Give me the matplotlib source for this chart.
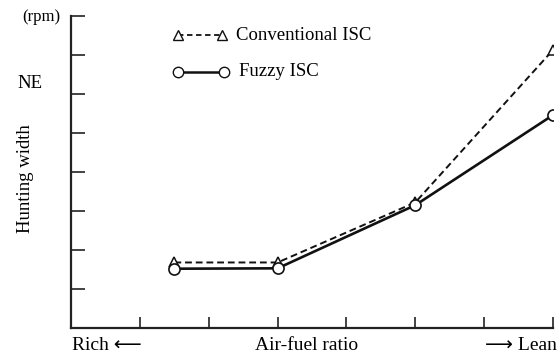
import matplotlib
matplotlib.use("Agg")
import matplotlib.pyplot as plt

plt.rcParams['font.family'] = ['Liberation Serif', 'DejaVu Sans']

x_pos = [1.5, 3.0, 5.0, 7.0]
conventional = [1.68, 1.68, 3.22, 7.13]
fuzzy = [1.52, 1.53, 3.15, 5.46]
series_names = ["Conventional ISC", "Fuzzy ISC"]

fig = plt.figure(figsize=(5.6, 3.56), dpi=100)
ax = fig.add_axes([0.127, 0.0787, 0.8605, 0.8763])

ax.plot(x_pos, conventional, linestyle=(0, (3.5, 2)), color='#111111', lw=1.4,
        marker='^', markersize=7.5, markerfacecolor='white', markeredgecolor='#111111',
        markeredgewidth=1.1, zorder=3)
ax.plot(x_pos, fuzzy, linestyle='-', color='#111111', lw=1.9,
        marker='o', markersize=8, markerfacecolor='white', markeredgecolor='#111111',
        markeredgewidth=1.2, zorder=4)

ax.set_xlim(0, 7)
ax.set_ylim(0, 8)
ax.set_xticks(range(0, 8))
ax.set_yticks(range(0, 9))
ax.set_xticklabels([])
ax.set_yticklabels([])
ax.tick_params(axis='both', direction='in', color='#222222', width=1.2)
ax.tick_params(axis='y', length=10)
ax.tick_params(axis='x', length=8)
for s in ['top', 'right']:
    ax.spines[s].set_visible(False)
for s in ['left', 'bottom']:
    ax.spines[s].set_linewidth(1.6)
    ax.spines[s].set_color('#222222')
    ax.spines[s].set_clip_on(False)

def fx(px):
    return px / 560
def fy(py):
    return 1 - py / 356

fig.lines.append(plt.Line2D([fx(178), fx(222)], [fy(35), fy(35)], transform=fig.transFigure,
                            linestyle=(0, (3, 2)), color='#111111', lw=1.3,
                            marker='^', markersize=6.5, markerfacecolor='white',
                            markeredgecolor='#111111', markevery=[0, 1]))
fig.lines.append(plt.Line2D([fx(178), fx(224)], [fy(72), fy(72)], transform=fig.transFigure,
                            linestyle='-', color='#111111', lw=1.8,
                            marker='o', markersize=7.5, markerfacecolor='white',
                            markeredgecolor='#111111', markevery=[0, 1]))
fig.text(fx(236), fy(35), series_names[0], fontsize=13.5, va='center', ha='left')
fig.text(fx(239), fy(72), series_names[1], fontsize=13.5, va='center', ha='left')

fig.text(fx(41), fy(17), "(rpm)", fontsize=12, va='center', ha='center')
fig.text(fx(30), fy(83), "NE", fontsize=13.5, va='center', ha='center')
fig.text(fx(25), fy(179), "Hunting width", fontsize=13.5, va='center', ha='center', rotation=90)
fig.text(fx(72), fy(345), "Rich \u27f5", fontsize=14, va='center', ha='left')
fig.text(fx(307), fy(345), "Air-fuel ratio", fontsize=14, va='center', ha='center')
fig.text(fx(557), fy(345), "\u27f6 Lean", fontsize=14, va='center', ha='right')

fig.savefig("out.png", dpi=100)
